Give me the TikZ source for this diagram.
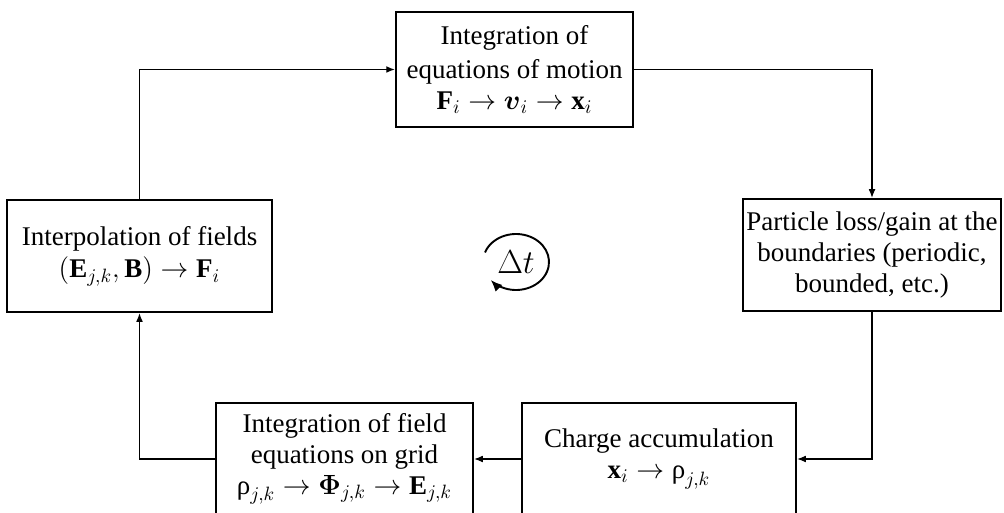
\documentclass[tikz,border=0pt]{standalone}
\usepackage{amsmath,amssymb}
\usepackage{fontspec}
\setmainfont{Liberation Serif}
\usetikzlibrary{arrows.meta}

\tikzset{
  block/.style={rectangle, draw, line width=1.1pt, align=center, inner sep=1pt,
    font=\fontsize{14}{16}\selectfont},
  link/.style={->, line width=0.6pt},
}

\begin{document}
\begin{tikzpicture}[x=0.5185pt, y=-0.5185pt, >={Latex[length=4.5pt,width=3.5pt]}]
  \clip (0,0) rectangle (1004,513);

  \node (motion) [block, minimum width=122.9pt, minimum height=59.6pt] at (514.5,69.5)
    {Integration of\\[2pt] equations of motion\\ $\mathbf{F}_i \rightarrow \boldsymbol{v}_i \rightarrow \mathbf{x}_i$};
  \node (interp) [block, minimum width=137.4pt, minimum height=58.1pt] at (139.5,256)
    {Interpolation of fields\\[1pt] $(\mathbf{E}_{j,k}, \mathbf{B}) \rightarrow \mathbf{F}_i$};
  \node (loss) [block, minimum width=133.8pt, minimum height=58.1pt] at (872,255)
    {Particle loss/gain at the\\ boundaries (periodic,\\ bounded, etc.)};
  \node (field) [block, minimum width=133.3pt, minimum height=58.1pt] at (344.5,459)
    {Integration of field\\ equations on grid\\ $\text{ρ}_{j,k} \rightarrow \boldsymbol{\Phi}_{j,k} \rightarrow \mathbf{E}_{j,k}$};
  \node (charge) [block, minimum width=142.1pt, minimum height=58.1pt] at (659,459)
    {Charge accumulation\\ $\mathbf{x}_i \rightarrow \text{ρ}_{j,k}$};

  % time step symbol
  \node (dt) at (516,262) {\fontsize{17}{20}\selectfont $\Delta t$};
  \draw[-{Latex[length=6pt,width=5pt]}, line width=1pt] (dt.center) ++(-160:33 and 28) arc[start angle=-160, end angle=140, x radius=33, y radius=28];

  \draw[link] (interp.north) |- (motion.west);
  \draw[link] (motion.east) -| (loss.north);
  \draw[link] (loss.south) |- (charge.east);
  \draw[link] (charge.west) -- (field.east);
  \draw[link] (field.west) -| (interp.south);
\end{tikzpicture}
\end{document}
